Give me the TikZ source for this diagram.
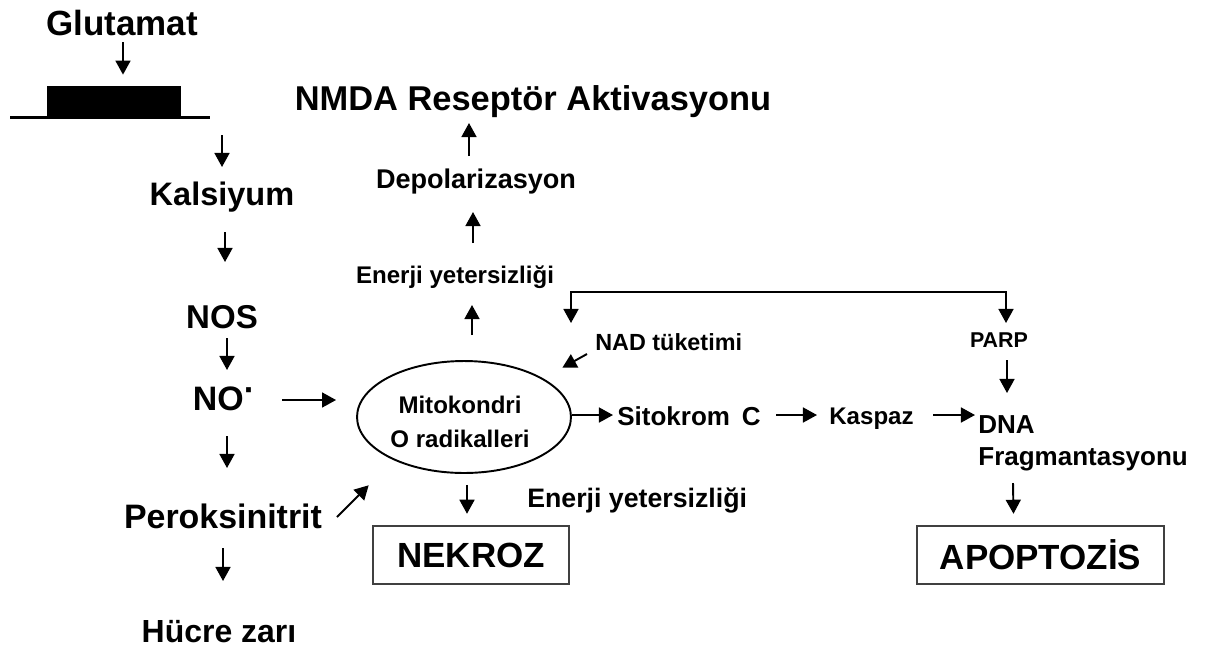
\documentclass[tikz,border=0pt]{standalone}
\usepackage{fontspec}
\setmainfont{Liberation Sans}
\usetikzlibrary{arrows.meta,calc,shapes.geometric}
\newcommand\fsz[1]{\fontsize{#1pt}{#1pt}\selectfont}
\begin{document}
\begin{tikzpicture}[x=0.02cm,y=-0.02cm,
  txt/.style={inner sep=0pt,anchor=base,font=\bfseries},
  arr/.style={line width=1.1pt,-{Triangle[length=8pt,width=8.5pt]}},
  boxnode/.style={draw=black!75,line width=1.4pt,inner sep=0pt,minimum width=#1,minimum height=1.16cm,font=\bfseries\fsz{19.9}}
]
\fill[white] (0,0) rectangle (1220,650);
\useasboundingbox (0,0) rectangle (1220,650);

% left column
\node[txt,font=\bfseries\fsz{19.9}] (glu) at (122,35) {Glutamat};
\node[fill=black,inner sep=0pt,minimum width=2.68cm,minimum height=0.62cm] (bar) at (114,101.5) {};
\draw[line width=1.7pt] (10,117) -- (210,117);
\coordinate (mem) at (222,117);
\node[txt,font=\bfseries\fsz{18.5}] (kal) at (222,205) {Kalsiyum};
\node[txt,font=\bfseries\fsz{18.8}] (nos) at (222,328) {NOS};
\node[txt,font=\bfseries\fsz{19.3}] (no) at (224,410) {NO\raisebox{0.25em}{·}};
\node[txt,font=\bfseries\fsz{19.3}] (per) at (223,528) {Peroksinitrit};
\node[txt,font=\bfseries\fsz{18.2}] (huc) at (219,642) {Hücre zarı};

% middle
\node[txt,font=\bfseries\fsz{19.6}] (nmda) at (533,110) {NMDA Reseptör Aktivasyonu};
\node[txt,font=\bfseries\fsz{15.4}] (depol) at (476,188) {Depolarizasyon};
\node[txt,font=\bfseries\fsz{13.7}] (en1) at (455,283) {Enerji yetersizliği};
\node[draw,ellipse,line width=1.1pt,inner sep=0pt,minimum width=4.28cm,minimum height=2.24cm] (ell) at (464,417) {};
\node[txt,font=\bfseries\fsz{13.7}] (mito) at (460,413) {Mitokondri};
\node[txt,font=\bfseries\fsz{13.7}] (orad) at (460,447) {O radikalleri};
\node[boxnode=3.92cm] (nek) at (471,555) {NEKROZ};
\node[txt,anchor=base west,font=\bfseries\fsz{15.2}] (en2) at (527,507) {Enerji yetersizliği};
\node[txt,anchor=base west,font=\bfseries\fsz{13.3}] (nad) at (595,350) {NAD tüketimi};
\node[txt,anchor=base west,font=\bfseries\fsz{14.8}] (sit) at (617,425) {Sitokrom\hspace{0.45em}C};
\node[txt,anchor=base west,font=\bfseries\fsz{13.7}] (kas) at (829,424) {Kaspaz};

% right
\node[txt,font=\bfseries\fsz{12.2}] (parp) at (999,347) {PARP};
\node[txt,anchor=base west,font=\bfseries\fsz{14.8}] (dna) at (978,433) {DNA};
\node[txt,anchor=base west,font=\bfseries\fsz{14.8}] (frag) at (978,465) {Fragmantasyonu};
\node[boxnode=4.94cm] (apo) at (1040.5,555) {APOPTOZİS};

% connectors
\draw[arr] ($(glu.base)+(1,7)$) -- ($(bar.north)+(9,-11)$);
\draw[arr] ($(mem)+(0,18)$) -- ($(kal.base)+(0,-38)$);
\draw[arr] ($(kal.base)+(3,27)$) -- ($(nos.base)+(3,-66)$);
\draw[arr] ($(nos.base)+(5,10)$) -- ($(no.base)+(3,-40)$);
\draw[arr] ($(no.base)+(3,26)$) -- ($(per.base)+(4,-60)$);
\draw[arr] ($(per.base)+(0,20)$) -- ($(huc.base)+(4,-61)$);
\draw[arr] ($(no.base)+(58,-10)$) -- ($(ell.west)+(-20,-17)$);
\draw[arr] ($(per.base)+(114,-11)$) -- ($(ell.south west)+(-19,28)$);
\draw[arr] ($(ell.south)+(3,11)$) -- ($(nek.north)+(-4,-11)$);
\draw[arr] ($(ell.north)+(8,-25)$) -- ($(en1.base)+(17,22)$);
\draw[arr] ($(en1.base)+(18,-40)$) -- ($(depol.base)+(-3,24)$);
\draw[arr] ($(depol.base)+(-7,-32)$) -- ($(nmda.base)+(-64,13)$);
\draw[line width=1.1pt,{Triangle[length=8pt,width=8.5pt]}-{Triangle[length=8pt,width=8.5pt]}]
  ($(nad.base west)+(-24,-27)$) -- ++(0,-31) -| ($(parp.base)+(7,-24)$);
\draw[arr] ($(nad.base west)+(-8,4)$) -- ($(ell.north east)+(22,-9)$);
\draw[arr] ($(ell.east)+(0,-2)$) -- ($(sit.base west)+(-4,-10)$);
\draw[arr] ($(sit.base west)+(159,-10)$) -- ($(kas.base west)+(-12,-9)$);
\draw[arr] ($(kas.base west)+(104,-9)$) -- ($(dna.base west)+(-3,-18)$);
\draw[arr] ($(parp.base)+(8,13)$) -- ($(dna.base west)+(29,-40)$);
\draw[arr] ($(frag.base west)+(35,18)$) -- ($(apo.north)+(-27,-11)$);
\end{tikzpicture}
\end{document}
